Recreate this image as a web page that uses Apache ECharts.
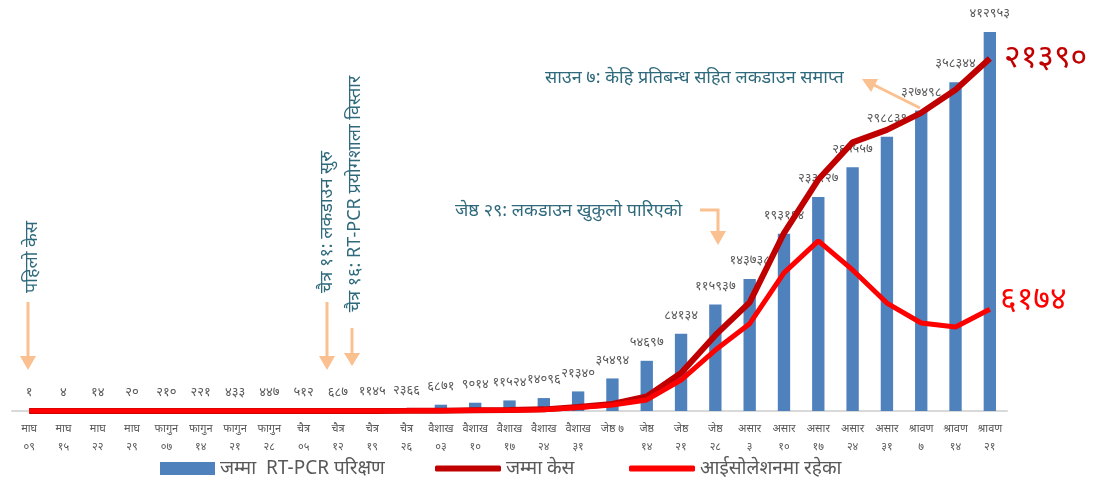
<!DOCTYPE html>
<html style="height: 100%">
<head>
    <meta charset="utf-8">
</head>
<body style="height: 100%; margin: 0; background: #fff">
<div id="container" style="width: 1107px; height: 479px"></div>
<script type="text/javascript" src="https://cdn.jsdelivr.net/npm/echarts@6/dist/echarts.min.js"></script>
<script type="text/javascript">
    var months = ['माघ', 'माघ', 'माघ', 'माघ', 'फागुन', 'फागुन', 'फागुन', 'फागुन', 'चैत्र', 'चैत्र', 'चैत्र', 'चैत्र',
        'वैशाख', 'वैशाख', 'वैशाख', 'वैशाख', 'वैशाख', 'जेष्ठ ७', 'जेष्ठ', 'जेष्ठ', 'जेष्ठ', 'असार', 'असार', 'असार',
        'असार', 'असार', 'श्रावण', 'श्रावण', 'श्रावण'];
    var days = ['०९', '१५', '२२', '२९', '०७', '१४', '२१', '२८', '०५', '१२', '१९', '२६',
        '०३', '१०', '१७', '२४', '३१', '', '१४', '२१', '२८', '३', '१०', '१७',
        '२४', '३१', '७', '१४', '२१'];
    // जम्मा RT-PCR परिक्षण
    var tests = [1, 4, 14, 20, 210, 221, 433, 447, 512, 687, 1145, 2366, 6871, 9014, 11524, 14096,
        21340, 35494, 54697, 84134, 115937, 143738, 193194, 233227, 265557, 298839, 327498, 358344, 412953];
    // जम्मा केस
    var cases = [1, 1, 1, 1, 1, 1, 1, 1, 1, 3, 5, 9, 16, 45, 57, 99,
        242, 427, 886, 2300, 4600, 6591, 10800, 14046, 16300, 17061, 18094, 19500, 21390];
    // आईसोलेशनमा रहेका
    var isolation = [1, 1, 1, 1, 1, 1, 1, 1, 1, 3, 4, 8, 14, 41, 41, 70,
        210, 360, 670, 1880, 3700, 5300, 8380, 10320, 8560, 6550, 5340, 5100, 6174];

    var devaDigits = '०१२३४५६७८९';
    function toNepali(n) {
        return String(n).replace(/[0-9]/g, function (d) { return devaDigits[+d]; });
    }

    var categories = months.map(function (m, i) { return m + '\n' + days[i]; });

    var font = '"Noto Sans", "Noto Sans Devanagari", sans-serif';
    var noteColor = '#2f6a7c';
    var arrowColor = '#fac090';

    function vText(txt, x, y) {
        return {
            type: 'text', x: x, y: y, rotation: Math.PI / 2,
            style: {text: txt, fontSize: 18, fill: noteColor, fontFamily: font, align: 'center', verticalAlign: 'middle'}
        };
    }
    function arrowLine(points) {
        return {type: 'polyline', shape: {points: points}, style: {stroke: arrowColor, lineWidth: 3, fill: null}};
    }
    function head(points) {
        return {type: 'polygon', shape: {points: points}, style: {fill: arrowColor}};
    }

    var dom = document.getElementById("container");
    var myChart = echarts.init(dom);
    var option = {
        backgroundColor: '#fff',
        animation: false,
        grid: {left: 12, right: 100, top: 32, bottom: 68},
        legend: [
            {data: [{name: 'जम्मा  RT-PCR परिक्षण', icon: 'rect'}], left: 155, top: 454, itemWidth: 55, itemHeight: 13,
                textStyle: {fontSize: 19, color: '#595959', fontFamily: font}},
            {data: [{name: 'जम्मा केस', icon: 'roundRect'}], left: 430, top: 454, itemWidth: 66, itemHeight: 6,
                textStyle: {fontSize: 19, color: '#595959', fontFamily: font}},
            {data: [{name: 'आईसोलेशनमा रहेका', icon: 'roundRect'}], left: 624, top: 454, itemWidth: 66, itemHeight: 6,
                textStyle: {fontSize: 19, color: '#595959', fontFamily: font}}
        ],
        xAxis: {
            type: 'category',
            data: categories,
            axisLine: {lineStyle: {color: '#d9d9d9', width: 2}},
            axisTick: {show: false},
            axisLabel: {interval: 0, color: '#595959', fontSize: 11, lineHeight: 18, fontFamily: font, margin: 9}
        },
        yAxis: [
            {type: 'value', min: 0, max: 413000, show: false, splitLine: {show: false}},
            {type: 'value', min: 0, max: 23000, show: false, splitLine: {show: false}}
        ],
        series: [
            {
                name: 'जम्मा  RT-PCR परिक्षण', type: 'bar', data: tests, barWidth: '36%',
                itemStyle: {color: '#4f81bd'},
                label: {show: true, position: 'top', distance: 12, fontSize: 13, color: '#595959', fontFamily: font,
                    formatter: function (p) { return toNepali(p.value); }}
            },
            {
                name: 'जम्मा केस', type: 'line', yAxisIndex: 1, data: cases, symbol: 'none',
                lineStyle: {color: '#c00000', width: 6}, itemStyle: {color: '#c00000'}
            },
            {
                name: 'आईसोलेशनमा रहेका', type: 'line', yAxisIndex: 1, data: isolation, symbol: 'none',
                lineStyle: {color: '#ff0000', width: 5}, itemStyle: {color: '#ff0000'}
            }
        ],
        graphic: [
            vText('पहिलो केस', 32, 257),
            arrowLine([[28, 302], [28, 358]]), head([[20, 356], [36, 356], [28, 370]]),
            vText('चैत्र ११: लकडाउन सुरु', 327, 222),
            arrowLine([[327, 302], [327, 358]]), head([[319, 356], [335, 356], [327, 370]]),
            vText('चैत्र १६: RT-PCR प्रयोगशाला विस्तार', 355, 194),
            arrowLine([[352, 328], [352, 355]]), head([[344, 353], [360, 353], [352, 366]]),
            {type: 'text', x: 455, y: 211, style: {text: 'जेष्ठ २९: लकडाउन खुकुलो पारिएको', fontSize: 18, fill: noteColor,
                fontFamily: font, verticalAlign: 'middle'}},
            arrowLine([[700, 210], [718, 210], [718, 233]]), head([[710, 231], [726, 231], [718, 245]]),
            {type: 'text', x: 545, y: 78, style: {text: 'साउन ७: केहि प्रतिबन्ध सहित लकडाउन समाप्त', fontSize: 18, fill: noteColor,
                fontFamily: font, verticalAlign: 'middle'}},
            arrowLine([[920, 108], [872, 84]]), head([[862, 79], [871, 92], [878, 79]]),
            {type: 'text', x: 1004, y: 58, style: {text: toNepali(cases[cases.length - 1]), fontSize: 32, fill: '#c00000',
                fontFamily: font, verticalAlign: 'middle'}},
            {type: 'text', x: 1000, y: 300, style: {text: toNepali(isolation[isolation.length - 1]), fontSize: 32, fill: '#ff0000',
                fontFamily: font, verticalAlign: 'middle'}}
        ]
    };
    myChart.setOption(option, true);
</script>
</body>
</html>
